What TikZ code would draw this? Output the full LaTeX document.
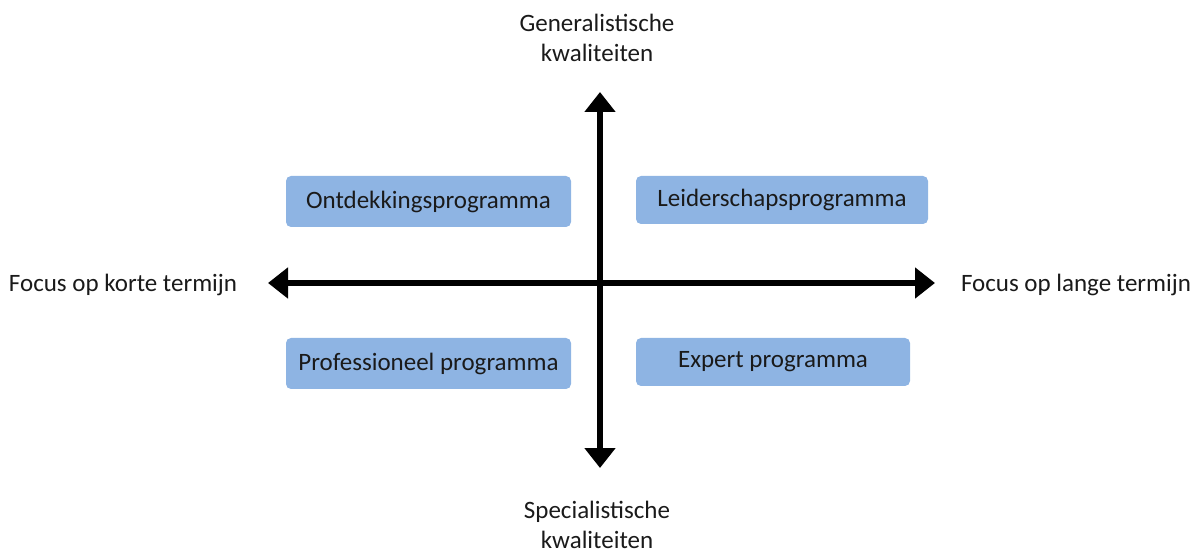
\documentclass[tikz,border=0pt]{standalone}
\usepackage{fontspec}
\setmainfont{Carlito}
\usetikzlibrary{arrows.meta}
\definecolor{progblue}{HTML}{8EB4E3}
\definecolor{labeltext}{HTML}{1A1A1A}

\begin{document}
\begin{tikzpicture}[x=1pt, y=-1pt, font=\fontsize{25}{30}\selectfont,
  prog/.style={fill=progblue, rounded corners=5pt, inner sep=0pt, text=labeltext},
  axislabel/.style={align=center, text=labeltext, inner sep=0pt},
  axis/.style={line width=6pt, {Triangle[length=20pt,width=30pt]}-{Triangle[length=20pt,width=30pt]}}]
  \useasboundingbox (0,0) rectangle (1200,553);
  % axes
  \coordinate (top) at (600,92);
  \coordinate (bottom) at (600,468);
  \coordinate (left) at (268,283);
  \coordinate (right) at (935,283);
  \draw[axis] (bottom) -- (top);
  \draw[axis] (left) -- (right);
  \node[axislabel] (gen) at (597,38) {Generalistische\\kwaliteiten};
  \node[axislabel] (spec) at (597,525) {Specialistische\\kwaliteiten};
  \node[axislabel] (kort) at (123,285) {Focus op korte termijn};
  \node[axislabel] (lang) at (1076,285) {Focus op lange termijn};
  % programmes
  \node[prog, minimum width=285pt, minimum height=51pt] (ontdek) at (428.5,201.5) {Ontdekkingsprogramma};
  \node[prog, minimum width=292pt, minimum height=48pt] (leider) at (782,200) {Leiderschapsprogramma};
  \node[prog, minimum width=285pt, minimum height=51pt] (prof) at (428.5,363.5) {Professioneel programma};
  \node[prog, minimum width=274pt, minimum height=48pt] (expert) at (773,362) {Expert programma};
\end{tikzpicture}
\end{document}
